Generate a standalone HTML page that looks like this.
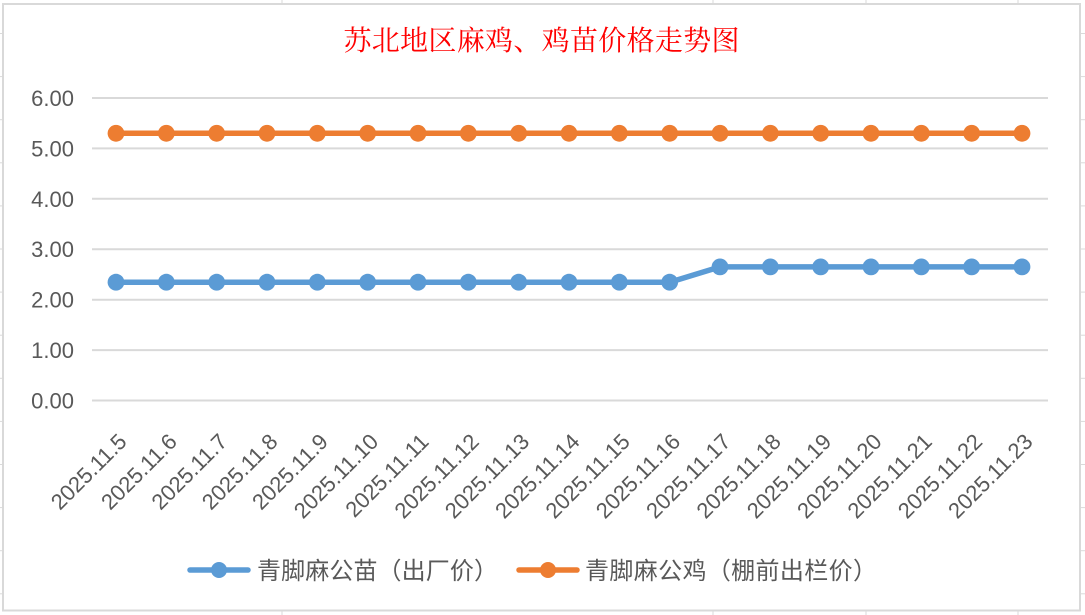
<!DOCTYPE html>
<html>
<head>
<meta charset="utf-8">
<style>
  html,body{margin:0;padding:0;background:#fff;}
  body{width:1085px;height:615px;overflow:hidden;}
  svg{display:block;}
</style>
</head>
<body>
<svg width="1085" height="615" viewBox="0 0 1085 615" xmlns="http://www.w3.org/2000/svg">
  <rect x="0" y="0" width="1085" height="615" fill="#ffffff"/>
  <!-- spreadsheet grid outside chart -->
  <g stroke="#dadada" stroke-width="1">
    <line x1="282" y1="0" x2="282" y2="4"/>
    <line x1="713" y1="0" x2="713" y2="4"/>
    <line x1="866" y1="0" x2="866" y2="4"/>
    <line x1="1018" y1="0" x2="1018" y2="4"/>
    <line x1="282" y1="611" x2="282" y2="615"/>
    <line x1="713" y1="611" x2="713" y2="615"/>
    <line x1="866" y1="611" x2="866" y2="615"/>
    <line x1="1018" y1="611" x2="1018" y2="615"/>
    <line x1="0" y1="33.5" x2="3" y2="33.5"/><line x1="1081" y1="33.5" x2="1085" y2="33.5"/>
    <line x1="0" y1="76.6" x2="3" y2="76.6"/><line x1="1081" y1="76.6" x2="1085" y2="76.6"/>
    <line x1="0" y1="119.7" x2="3" y2="119.7"/><line x1="1081" y1="119.7" x2="1085" y2="119.7"/>
    <line x1="0" y1="162.8" x2="3" y2="162.8"/><line x1="1081" y1="162.8" x2="1085" y2="162.8"/>
    <line x1="0" y1="205.9" x2="3" y2="205.9"/><line x1="1081" y1="205.9" x2="1085" y2="205.9"/>
    <line x1="0" y1="249" x2="3" y2="249"/><line x1="1081" y1="249" x2="1085" y2="249"/>
    <line x1="0" y1="292.1" x2="3" y2="292.1"/><line x1="1081" y1="292.1" x2="1085" y2="292.1"/>
    <line x1="0" y1="335.2" x2="3" y2="335.2"/><line x1="1081" y1="335.2" x2="1085" y2="335.2"/>
    <line x1="0" y1="378.3" x2="3" y2="378.3"/><line x1="1081" y1="378.3" x2="1085" y2="378.3"/>
    <line x1="0" y1="421.4" x2="3" y2="421.4"/><line x1="1081" y1="421.4" x2="1085" y2="421.4"/>
    <line x1="0" y1="464.5" x2="3" y2="464.5"/><line x1="1081" y1="464.5" x2="1085" y2="464.5"/>
    <line x1="0" y1="507.6" x2="3" y2="507.6"/><line x1="1081" y1="507.6" x2="1085" y2="507.6"/>
    <line x1="0" y1="550.7" x2="3" y2="550.7"/><line x1="1081" y1="550.7" x2="1085" y2="550.7"/>
    <line x1="0" y1="593.8" x2="3" y2="593.8"/><line x1="1081" y1="593.8" x2="1085" y2="593.8"/>
  </g>
  <!-- chart border -->
  <rect x="3" y="4" width="1077" height="606.5" fill="#ffffff" stroke="#d9d9d9" stroke-width="2"/>

  <!-- title -->
  <text x="541.5" y="50" text-anchor="middle" fill="#ff0000" font-size="28" font-family="'Noto Serif CJK SC',serif" textLength="396" lengthAdjust="spacing">苏北地区麻鸡、鸡苗价格走势图</text>

  <!-- gridlines -->
  <g stroke="#d9d9d9" stroke-width="2">
    <line x1="92" y1="98" x2="1048" y2="98"/>
    <line x1="92" y1="148.4" x2="1048" y2="148.4"/>
    <line x1="92" y1="198.8" x2="1048" y2="198.8"/>
    <line x1="92" y1="249.2" x2="1048" y2="249.2"/>
    <line x1="92" y1="299.7" x2="1048" y2="299.7"/>
    <line x1="92" y1="350.1" x2="1048" y2="350.1"/>
    <line x1="92" y1="400.5" x2="1048" y2="400.5"/>
  </g>

  <!-- y labels -->
  <g fill="#595959" font-size="22" font-family="'Liberation Sans',sans-serif" text-anchor="end">
    <text x="74" y="106">6.00</text>
    <text x="74" y="156.4">5.00</text>
    <text x="74" y="206.8">4.00</text>
    <text x="74" y="257.2">3.00</text>
    <text x="74" y="307.7">2.00</text>
    <text x="74" y="358.1">1.00</text>
    <text x="74" y="408.5">0.00</text>
  </g>

  <!-- x labels -->
  <g fill="#595959" font-size="22" font-family="'Liberation Sans',sans-serif" text-anchor="end">
    <text transform="translate(128,443) rotate(-45)">2025.11.5</text>
    <text transform="translate(178.33,443) rotate(-45)">2025.11.6</text>
    <text transform="translate(228.67,443) rotate(-45)">2025.11.7</text>
    <text transform="translate(279,443) rotate(-45)">2025.11.8</text>
    <text transform="translate(329.33,443) rotate(-45)">2025.11.9</text>
    <text transform="translate(379.67,443) rotate(-45)">2025.11.10</text>
    <text transform="translate(430,443) rotate(-45)">2025.11.11</text>
    <text transform="translate(480.33,443) rotate(-45)">2025.11.12</text>
    <text transform="translate(530.67,443) rotate(-45)">2025.11.13</text>
    <text transform="translate(581,443) rotate(-45)">2025.11.14</text>
    <text transform="translate(631.33,443) rotate(-45)">2025.11.15</text>
    <text transform="translate(681.67,443) rotate(-45)">2025.11.16</text>
    <text transform="translate(732,443) rotate(-45)">2025.11.17</text>
    <text transform="translate(782.33,443) rotate(-45)">2025.11.18</text>
    <text transform="translate(832.67,443) rotate(-45)">2025.11.19</text>
    <text transform="translate(883,443) rotate(-45)">2025.11.20</text>
    <text transform="translate(933.33,443) rotate(-45)">2025.11.21</text>
    <text transform="translate(983.67,443) rotate(-45)">2025.11.22</text>
    <text transform="translate(1034,443) rotate(-45)">2025.11.23</text>
  </g>

  <!-- orange series -->
  <polyline fill="none" stroke="#ed7d31" stroke-width="5.5" stroke-linejoin="round" stroke-linecap="round"
    points="116,133.3 1022,133.3"/>
  <g fill="#ed7d31">
    <circle cx="116" cy="133.3" r="8.4"/>
    <circle cx="166.33" cy="133.3" r="8.4"/>
    <circle cx="216.67" cy="133.3" r="8.4"/>
    <circle cx="267" cy="133.3" r="8.4"/>
    <circle cx="317.33" cy="133.3" r="8.4"/>
    <circle cx="367.67" cy="133.3" r="8.4"/>
    <circle cx="418" cy="133.3" r="8.4"/>
    <circle cx="468.33" cy="133.3" r="8.4"/>
    <circle cx="518.67" cy="133.3" r="8.4"/>
    <circle cx="569" cy="133.3" r="8.4"/>
    <circle cx="619.33" cy="133.3" r="8.4"/>
    <circle cx="669.67" cy="133.3" r="8.4"/>
    <circle cx="720" cy="133.3" r="8.4"/>
    <circle cx="770.33" cy="133.3" r="8.4"/>
    <circle cx="820.67" cy="133.3" r="8.4"/>
    <circle cx="871" cy="133.3" r="8.4"/>
    <circle cx="921.33" cy="133.3" r="8.4"/>
    <circle cx="971.67" cy="133.3" r="8.4"/>
    <circle cx="1022" cy="133.3" r="8.4"/>
  </g>

  <!-- blue series -->
  <polyline fill="none" stroke="#5b9bd5" stroke-width="5.5" stroke-linejoin="round" stroke-linecap="round"
    points="116,282.2 669.67,282.2 720,266.9 1022,266.9"/>
  <g fill="#5b9bd5">
    <circle cx="116" cy="282.2" r="8.4"/>
    <circle cx="166.33" cy="282.2" r="8.4"/>
    <circle cx="216.67" cy="282.2" r="8.4"/>
    <circle cx="267" cy="282.2" r="8.4"/>
    <circle cx="317.33" cy="282.2" r="8.4"/>
    <circle cx="367.67" cy="282.2" r="8.4"/>
    <circle cx="418" cy="282.2" r="8.4"/>
    <circle cx="468.33" cy="282.2" r="8.4"/>
    <circle cx="518.67" cy="282.2" r="8.4"/>
    <circle cx="569" cy="282.2" r="8.4"/>
    <circle cx="619.33" cy="282.2" r="8.4"/>
    <circle cx="669.67" cy="282.2" r="8.4"/>
    <circle cx="720" cy="266.9" r="8.4"/>
    <circle cx="770.33" cy="266.9" r="8.4"/>
    <circle cx="820.67" cy="266.9" r="8.4"/>
    <circle cx="871" cy="266.9" r="8.4"/>
    <circle cx="921.33" cy="266.9" r="8.4"/>
    <circle cx="971.67" cy="266.9" r="8.4"/>
    <circle cx="1022" cy="266.9" r="8.4"/>
  </g>

  <!-- legend -->
  <line x1="190" y1="570" x2="248" y2="570" stroke="#5b9bd5" stroke-width="5.5" stroke-linecap="round"/>
  <circle cx="219" cy="570" r="8" fill="#5b9bd5"/>
  <text x="257" y="579" fill="#595959" font-size="24" font-family="'Noto Sans CJK SC',sans-serif" textLength="241" lengthAdjust="spacing">青脚麻公苗（出厂价）</text>

  <line x1="519" y1="570" x2="577" y2="570" stroke="#ed7d31" stroke-width="5.5" stroke-linecap="round"/>
  <circle cx="548" cy="570" r="8" fill="#ed7d31"/>
  <text x="585" y="579" fill="#595959" font-size="24" font-family="'Noto Sans CJK SC',sans-serif" textLength="292" lengthAdjust="spacing">青脚麻公鸡（棚前出栏价）</text>
</svg>
</body>
</html>
